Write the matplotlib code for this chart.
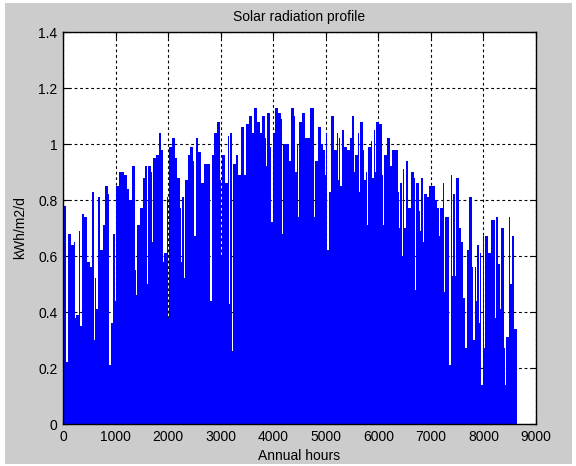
import numpy as np
import matplotlib
matplotlib.use("Agg")
import matplotlib.pyplot as plt
from matplotlib.patches import Rectangle
from matplotlib.ticker import FuncFormatter

# ---------------- DATA (~2-day bins) ----------------
TOTAL_HOURS = 8640

peak = [
    0.78, 0.22, 0.68, 0.64, 0.65, 0.39, 0.69, 0.75, 0.74, 0.58,
    0.56, 0.83, 0.52, 0.81, 0.62, 0.71, 0.85, 0.82, 0.36, 0.68,
    0.85, 0.90, 0.90, 0.89, 0.84, 0.80, 0.92,
    0.55, 0.71, 0.77, 0.88, 0.92, 0.92, 0.90, 0.95, 0.96, 1.04,
    0.98, 0.61, 0.81, 0.99, 1.02, 0.95, 0.88, 0.77, 0.81, 0.87,
    0.96, 0.99, 0.94, 1.02, 0.97, 0.86, 0.93, 0.93, 0.93, 0.96,
    1.04, 1.08, 0.87, 0.96, 0.86, 1.03, 1.04, 0.93, 0.96, 0.89,
    1.06, 0.89, 1.07, 1.10, 1.04, 1.13, 1.08, 1.04, 1.10, 1.02,
    1.11, 0.99, 1.04, 1.13, 1.11, 1.09, 1.00, 1.00, 0.94, 1.13,
    1.10, 1.00, 1.08, 1.11, 1.02, 1.02, 1.13, 1.13, 0.94, 1.06,
    1.00, 0.98, 1.04, 0.83, 1.10, 0.98, 1.04, 1.02, 1.05, 0.99,
    0.98, 1.02, 1.10, 0.96, 1.04, 1.08, 0.98, 0.90, 0.99, 1.01,
    1.05, 1.08, 1.07, 0.89, 0.96, 1.02, 0.92, 0.98, 0.98, 0.83,
    0.86, 0.91, 0.94, 0.77, 0.90, 0.88, 0.86, 0.76, 0.88, 0.82,
    0.81, 0.85, 0.85, 0.80, 0.77, 0.77, 0.86, 0.74, 0.74, 0.89,
    0.82, 0.88, 0.70, 0.65, 0.45, 0.62, 0.81, 0.56, 0.56, 0.64,
    0.61, 0.67, 0.67, 0.61, 0.73, 0.73, 0.74, 0.57, 0.70, 0.27,
    0.31, 0.74, 0.67, 0.34,
]

# cloudy days falling inside a bin (bin index, value)
dip_bin = [4, 6, 11, 12, 17, 19,
           27, 31, 33, 37, 39, 44, 45, 49, 55,
           59, 62, 63, 76, 78, 82,
           87, 88, 94, 98, 99, 103, 104, 109, 111, 113, 114, 116,
           117, 120, 126, 127, 128, 132, 134, 135, 141, 143, 145, 146,
           147, 150, 151, 154, 155, 156, 157, 158, 162, 164, 166, 168]
dip_val = [0.38, 0.35, 0.30, 0.41, 0.21, 0.44,
           0.46, 0.50, 0.65, 0.58, 0.38, 0.58, 0.52, 0.67, 0.44,
           0.60, 0.43, 0.26, 0.92, 0.72, 0.68,
           0.90, 0.74, 0.74, 0.89, 0.62, 0.87, 0.85, 0.90, 0.83, 0.87, 0.71, 0.88,
           0.90, 0.71, 0.70, 0.60, 0.70, 0.48, 0.69, 0.65, 0.67, 0.47, 0.21, 0.53,
           0.53, 0.45, 0.27, 0.30, 0.44, 0.36, 0.14, 0.27, 0.38, 0.41, 0.14, 0.50]

# --------------- BUILD HALF-BIN HEIGHTS ---------------
n = len(peak)
w = TOTAL_HOURS / n
dips = dict(zip(dip_bin, dip_val))
heights = []
for i, p in enumerate(peak):
    heights.append(p)
    heights.append(dips.get(i, p))
x = np.arange(2 * n) * (w / 2)

# --------------- PLOT -----------------
fig = plt.figure(figsize=(5.76, 4.66), dpi=100)
fig.patch.set_facecolor("white")
fig.patches.append(Rectangle((5 / 576, 2 / 466), 567 / 576, 461 / 466,
                             transform=fig.transFigure, facecolor="#cccccc",
                             edgecolor="none", zorder=-10))

ax = fig.add_axes([63 / 576, 42 / 466, 473 / 576, 392 / 466])
ax.set_zorder(1)
ax.set_facecolor("white")
ax.bar(x, heights, width=w / 2, align="edge", color="#0000ff", linewidth=0)

ax.set_xlim(0, 9000)
ax.set_ylim(0, 1.4)
ax.set_xticks(np.arange(0, 9001, 1000))
ax.set_yticks(np.arange(0, 1.41, 0.2))
ax.yaxis.set_major_formatter(FuncFormatter(lambda v, p: f"{v:g}"))

ax.set_axisbelow(True)
ax.grid(True, color="black", linestyle=(0, (2.5, 2.5)), linewidth=0.8)
ax.tick_params(direction="in", length=4, top=True, right=True,
               labelsize=10, colors="black", pad=4)
for s in ax.spines.values():
    s.set_linewidth(1.0)
    s.set_color("black")

font = "Liberation Sans"
for lab in ax.get_xticklabels() + ax.get_yticklabels():
    lab.set_fontfamily(font)

ax.set_title("Solar radiation profile", fontsize=10, fontfamily=font, pad=8)
ax.set_xlabel("Annual hours", fontsize=10, fontfamily=font, labelpad=4)
ax.set_ylabel("kWh/m2/d", fontsize=10, fontfamily=font, labelpad=8)

fig.savefig("out.png", dpi=100, facecolor=fig.get_facecolor())
